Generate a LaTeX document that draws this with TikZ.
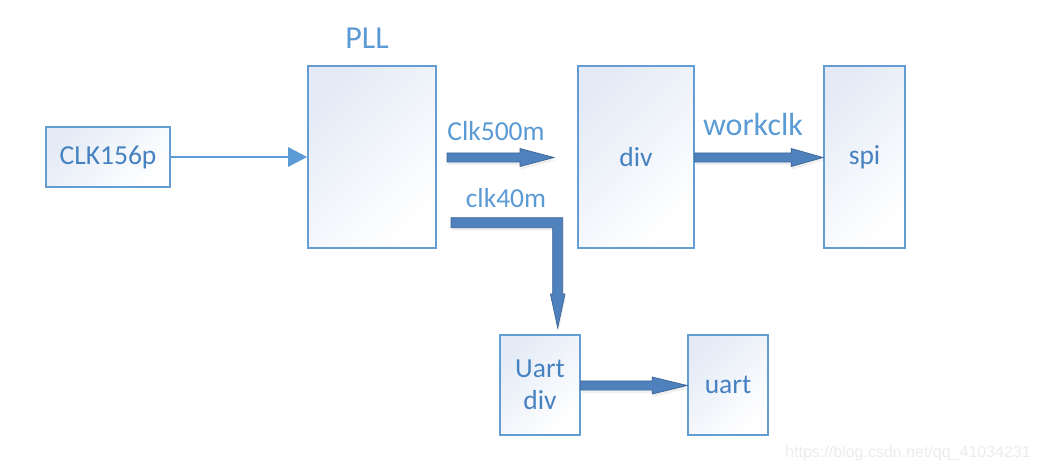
\documentclass[tikz,border=0pt]{standalone}
\usepackage{fontspec}
\setmainfont{Carlito}
\newfontfamily\wmfont{Liberation Sans}
\usetikzlibrary{arrows.meta,calc,shadows}
\definecolor{boxline}{RGB}{100,156,212}
\definecolor{boxtop}{RGB}{228,235,246}
\definecolor{boxtext}{RGB}{70,130,193}
\definecolor{lbltext}{RGB}{91,155,213}
\definecolor{fatfill}{RGB}{79,129,189}
\definecolor{fatline}{RGB}{60,100,150}
\definecolor{wmark}{RGB}{236,236,236}
\newcommand\txtA{\fontsize{27.5}{40}\selectfont}
\newcommand\txtB{\fontsize{32}{38}\selectfont}
\tikzset{
  blk/.style={draw=boxline, line width=1.6pt, shading=axis, top color=boxtop, bottom color=white, shading angle=45,
    text=boxtext, font=\txtA, align=center, inner sep=0pt},
  lbl/.style={text=lbltext, font=\txtA, inner sep=0pt},
  biglbl/.style={text=lbltext, font=\txtB, inner sep=0pt},
  fat/.style={fill=fatfill, draw=fatline, line width=0.7pt, line join=miter,
    drop shadow={opacity=0.12, shadow xshift=1pt, shadow yshift=-3pt}},
  thin/.style={draw=lbltext, line width=2.6pt, -{Triangle[length=19pt,width=19pt]}}
}
% horizontal fat arrow: #1 start, #2 end, #3 shaft half width, #4 head half width, #5 head length
\newcommand\fatH[5]{%
  \path[fat] let \p1=(#1), \p2=(#2) in
    (\x1,{\y1+#3pt}) -- ({\x2-#5pt},{\y1+#3pt}) -- ({\x2-#5pt},{\y1+#4pt}) -- (\x2,\y1)
    -- ({\x2-#5pt},{\y1-#4pt}) -- ({\x2-#5pt},{\y1-#3pt}) -- (\x1,{\y1-#3pt}) -- cycle;}
\begin{document}
\begin{tikzpicture}[x=1pt,y=-1pt]
\useasboundingbox (0,0) rectangle (1038,472);
\fill[white] (0,0) rectangle (1038,472);

\node[blk, minimum width=124pt, minimum height=60pt] (clk) at (108,157) {CLK156p};
\node[blk, minimum width=128pt, minimum height=182pt] (pll) at (372,157) {};
\node[blk, minimum width=116pt, minimum height=182pt] (div) at (636,157) {div};
\node[blk, minimum width=81pt, minimum height=182pt] (spi) at (864.5,157) {spi};
\node[blk, minimum width=80pt, minimum height=100pt] (udiv) at (540,385) {\raisebox{-4pt}{\shortstack{Uart\\[10pt]div}}};
\node[blk, minimum width=80pt, minimum height=100pt] (uart) at (728,385) {uart};

\node[biglbl] (pllname) at (367,38) {PLL};
\node[lbl] (l500) at (496,131) {Clk500m};
\node[lbl] (l40) at (506,198) {clk40m};
\node[biglbl] (lwork) at (753,124) {workclk};

\draw[thin] (clk.east) -- (pll.west);

\coordinate (a1) at (447,157.5);
\coordinate (a2) at (554,157.5);
\fatH{a1}{a2}{4.6}{9}{34}
\fatH{div.east |- 0,157.5}{spi.west |- 0,157.5}{4.6}{9}{32}
\fatH{udiv.east |- 0,385.5}{uart.west |- 0,385.5}{4.6}{8.5}{35}

\coordinate (b1) at (451,222.7);
\coordinate (b2) at (557.7,328);
\path[fat] let \p1=(b1), \p2=(b2) in
  (\x1,{\y1+5pt}) -- ({\x2+5pt},{\y1+5pt}) -- ({\x2+5pt},{\y2+34pt}) -- ({\x2+7.3pt},{\y2+34pt})
  -- (\x2,\y2) -- ({\x2-7.3pt},{\y2+34pt}) -- ({\x2-5pt},{\y2+34pt}) -- ({\x2-5pt},{\y1-5pt})
  -- (\x1,{\y1-5pt}) -- cycle;

\node[text=wmark, font=\wmfont\fontsize{16}{18}\selectfont, anchor=east, inner sep=0pt] (wm) at (1031,453) {https://blog.csdn.net/qq\_41034231};
\end{tikzpicture}
\end{document}
